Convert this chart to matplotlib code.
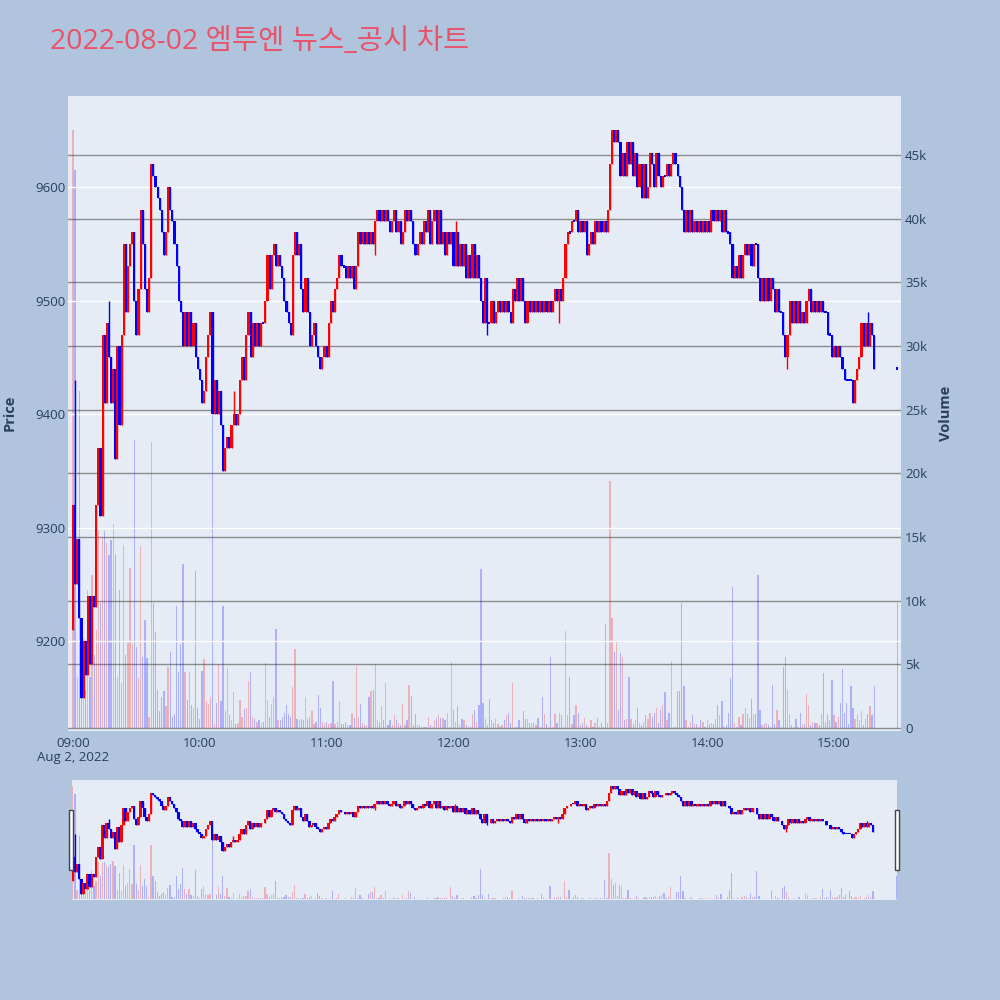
import numpy as np
import pandas as pd
import matplotlib
matplotlib.use("Agg")
import matplotlib.pyplot as plt
import matplotlib.dates as mdates
from matplotlib.patches import Rectangle

plt.rcParams['font.family'] = ['Open Sans', 'Noto Sans CJK KR', 'DejaVu Sans']

title = "2022-08-02 엠투엔 뉴스_공시 차트"

# minute closes 09:00 .. 15:19 (one row = 10 minutes)
closes = [
    9320, 9250, 9290, 9220, 9150, 9200, 9170, 9240, 9180, 9240,
    9230, 9320, 9370, 9310, 9470, 9410, 9480, 9450, 9410, 9440,
    9360, 9460, 9390, 9470, 9550, 9490, 9530, 9550, 9560, 9500,
    9470, 9510, 9580, 9550, 9510, 9490, 9520, 9620, 9610, 9600,
    9590, 9580, 9560, 9540, 9560, 9600, 9580, 9570, 9550, 9530,
    9500, 9490, 9460, 9490, 9460, 9490, 9460, 9480, 9450, 9440,
    9430, 9410, 9420, 9450, 9470, 9490, 9400, 9430, 9400, 9420,
    9390, 9350, 9370, 9380, 9370, 9390, 9400, 9390, 9400, 9430,
    9450, 9430, 9470, 9490, 9450, 9480, 9460, 9480, 9460, 9480,
    9480, 9500, 9540, 9510, 9540, 9550, 9530, 9540, 9530, 9520,
    9500, 9490, 9480, 9470, 9540, 9560, 9540, 9550, 9510, 9490,
    9520, 9490, 9460, 9470, 9480, 9460, 9450, 9440, 9450, 9460,
    9450, 9480, 9500, 9490, 9510, 9520, 9540, 9530, 9530, 9520,
    9530, 9520, 9530, 9510, 9530, 9560, 9550, 9560, 9550, 9560,
    9550, 9560, 9550, 9570, 9580, 9570, 9580, 9570, 9580, 9570,
    9560, 9570, 9580, 9560, 9570, 9550, 9560, 9580, 9570, 9580,
    9570, 9550, 9540, 9550, 9560, 9550, 9570, 9560, 9580, 9550,
    9570, 9580, 9550, 9580, 9550, 9560, 9540, 9560, 9550, 9560,
    9530, 9560, 9530, 9550, 9530, 9550, 9520, 9540, 9520, 9550,
    9520, 9540, 9520, 9500, 9480, 9520, 9480, 9480, 9500, 9480,
    9490, 9500, 9490, 9500, 9490, 9500, 9490, 9480, 9510, 9500,
    9520, 9500, 9520, 9500, 9480, 9500, 9490, 9500, 9490, 9500,
    9490, 9500, 9490, 9500, 9490, 9500, 9490, 9500, 9510, 9500,
    9510, 9500, 9520, 9550, 9560, 9560, 9570, 9570, 9580, 9560,
    9570, 9560, 9570, 9540, 9550, 9560, 9550, 9570, 9560, 9570,
    9560, 9570, 9560, 9580, 9620, 9650, 9640, 9650, 9640, 9610,
    9630, 9610, 9640, 9620, 9640, 9610, 9630, 9600, 9620, 9590,
    9620, 9590, 9600, 9630, 9620, 9600, 9630, 9610, 9600, 9610,
    9610, 9620, 9610, 9620, 9630, 9620, 9610, 9600, 9580, 9560,
    9580, 9560, 9580, 9560, 9570, 9560, 9570, 9560, 9570, 9560,
    9570, 9560, 9580, 9570, 9580, 9570, 9580, 9560, 9580, 9560,
    9560, 9550, 9520, 9530, 9520, 9540, 9520, 9540, 9550, 9540,
    9550, 9530, 9550, 9550, 9520, 9500, 9520, 9500, 9520, 9500,
    9520, 9510, 9490, 9510, 9490, 9490, 9470, 9450, 9470, 9500,
    9480, 9500, 9480, 9500, 9480, 9490, 9480, 9500, 9510, 9490,
    9500, 9490, 9500, 9490, 9500, 9490, 9490, 9470, 9470, 9450,
    9460, 9450, 9460, 9450, 9440, 9430, 9430, 9430, 9430, 9410,
    9430, 9440, 9450, 9480, 9460, 9480, 9460, 9480, 9470, 9440,
]
first_open = 9210
auction_price = 9440          # 15:30 closing auction

# volume in thousands of shares, same minutes
vol_k = [
    47.0, 43.8, 4.0, 26.5, 5.0, 7.0, 3.0, 10.8, 4.0, 12.0,
    5.7, 7.7, 15.5, 9.8, 15.0, 15.5, 14.5, 13.6, 14.8, 16.0,
    13.7, 4.0, 10.8, 3.5, 14.4, 5.7, 6.7, 12.6, 6.6, 22.6,
    6.4, 3.9, 14.3, 5.6, 8.5, 5.5, 0.9, 22.5, 9.8, 7.5,
    3.0, 1.3, 2.4, 2.9, 1.7, 4.8, 6.0, 0.9, 1.1, 9.6,
    4.4, 6.6, 12.9, 4.4, 2.2, 4.4, 1.8, 1.6, 12.3, 1.6,
    0.7, 4.5, 5.4, 2.1, 1.9, 2.4, 27.7, 0.3, 2.0, 5.0,
    2.1, 9.6, 1.3, 4.7, 1.0, 0.6, 2.8, 0.3, 0.4, 2.2,
    0.9, 1.5, 1.6, 3.7, 4.4, 0.9, 0.7, 0.5, 0.6, 0.4,
    0.5, 5.1, 2.2, 0.9, 1.9, 2.4, 7.8, 0.6, 0.6, 0.9,
    1.2, 1.8, 1.1, 0.9, 3.2, 6.2, 0.7, 0.6, 0.7, 0.6,
    2.4, 0.7, 0.9, 1.3, 0.3, 0.5, 2.6, 1.6, 0.5, 0.3,
    0.5, 0.3, 0.4, 3.7, 0.3, 0.5, 2.1, 0.3, 0.3, 0.5,
    0.2, 0.2, 1.2, 0.8, 4.9, 0.8, 1.9, 0.4, 0.2, 0.2,
    2.4, 2.9, 3.0, 5.0, 0.6, 0.5, 1.7, 0.6, 3.5, 0.2,
    0.6, 0.2, 1.0, 0.6, 0.4, 0.2, 1.9, 0.2, 0.6, 3.4,
    2.5, 0.2, 1.1, 0.2, 0.2, 0.1, 0.1, 0.1, 0.9, 0.2,
    0.1, 0.6, 0.8, 1.0, 0.8, 0.8, 0.6, 1.2, 0.1, 5.2,
    1.4, 0.5, 1.7, 0.2, 0.7, 0.6, 0.2, 0.1, 0.1, 1.1,
    1.4, 0.5, 1.8, 12.5, 2.0, 0.7, 0.2, 2.3, 0.6, 0.4,
    0.7, 0.3, 0.1, 0.2, 0.6, 1.0, 1.2, 0.4, 3.5, 0.1,
    0.1, 0.6, 0.1, 1.3, 0.7, 0.7, 0.4, 0.4, 0.4, 0.2,
    0.8, 0.1, 2.4, 1.1, 0.3, 0.1, 5.6, 0.1, 1.1, 0.4,
    1.2, 1.0, 0.1, 7.6, 1.0, 4.0, 0.3, 1.0, 1.8, 1.2,
    0.2, 0.4, 0.8, 0.2, 0.1, 0.6, 0.1, 0.4, 0.8, 0.1,
    0.4, 0.1, 8.2, 0.4, 19.4, 8.6, 6.0, 6.8, 1.4, 5.9,
    5.6, 0.6, 0.7, 4.0, 0.7, 0.3, 0.6, 1.6, 0.4, 0.2,
    0.5, 1.0, 0.7, 1.2, 0.9, 1.2, 1.6, 0.4, 1.4, 1.8,
    2.8, 0.6, 1.2, 5.3, 0.1, 0.1, 2.9, 2.9, 9.8, 3.3,
    0.6, 0.1, 0.5, 1.0, 0.3, 0.3, 0.1, 0.6, 0.5, 0.1,
    0.6, 0.3, 0.4, 0.3, 0.7, 1.8, 1.0, 2.1, 0.1, 0.2,
    1.2, 3.9, 11.1, 0.4, 0.1, 0.9, 0.2, 1.1, 1.6, 1.1,
    0.8, 2.3, 1.1, 1.1, 12.0, 1.4, 0.2, 0.3, 0.4, 0.2,
    0.1, 3.4, 0.3, 1.4, 0.6, 0.1, 4.8, 5.6, 3.0, 1.1,
    0.2, 0.1, 0.7, 0.1, 1.2, 0.2, 0.3, 2.7, 1.8, 0.2,
    0.5, 0.4, 0.4, 0.2, 1.1, 4.3, 0.5, 1.1, 0.6, 3.8,
    1.0, 0.5, 0.9, 2.0, 4.6, 1.2, 2.0, 0.3, 3.3, 1.6,
    0.7, 1.1, 0.6, 1.3, 0.2, 0.7, 1.1, 1.7, 1.0, 3.3,
]
auction_vol_k = 9.8

# wicks that poke out of the bodies (minute index -> price)
wick_high = {1: 9430, 17: 9500, 76: 9420, 181: 9570, 376: 9490}
wick_low = {143: 9540, 196: 9470, 230: 9480, 338: 9440}

assert len(closes) == len(vol_k) == 380

RED = '#FF0000'
BLUE = '#0000FF'
FONT_C = '#2a3f5f'

t = pd.Timestamp('2022-08-02 09:00') + pd.to_timedelta(np.arange(len(closes)), unit='min')
t = t.append(pd.DatetimeIndex([pd.Timestamp('2022-08-02 15:30')]))
x = mdates.date2num(t.to_pydatetime())

c = np.array(closes + [auction_price], float)
o = np.concatenate([[first_open], c[:-1]])
o[-1] = auction_price
hi = np.maximum(o, c)
lo = np.minimum(o, c)
for k, v in wick_high.items():
    hi[k] = v
for k, v in wick_low.items():
    lo[k] = v
vol = np.array(vol_k + [auction_vol_k])
up = c > o
cols = np.where(up, RED, BLUE)

MIN = 1 / 1440.0


def draw(axp, axv, body_w, wick_lw):
    axv.bar(x, vol, width=0.6 * MIN, color=cols, alpha=0.25, linewidth=0, zorder=2)
    axp.vlines(x, lo, hi, colors=cols, lw=wick_lw, zorder=3)
    d = np.abs(c - o)
    h = np.maximum(d, 2.0)
    b = np.minimum(o, c) - (h - d) / 2
    axp.bar(x, h, bottom=b, width=body_w * MIN, color=cols, linewidth=0, zorder=4)


fig = plt.figure(figsize=(10, 10), dpi=100, facecolor='#B0C4DE')

# main panel
axv = fig.add_axes([0.068, 0.269, 0.833, 0.635], facecolor='#E5ECF6')
axp = axv.twinx()
axv.yaxis.tick_right()
axp.yaxis.tick_left()

draw(axp, axv, 1.0, 1.0)

t_start = pd.Timestamp('2022-08-02 09:00')
axv.set_xlim(mdates.date2num(t_start - pd.Timedelta(minutes=2.37)),
             mdates.date2num(t_start + pd.Timedelta(minutes=391.7)))
axv.set_ylim(-0.236, 49.635)
axp.set_ylim(9120.7, 9680.2)

axv.set_yticks(np.arange(0, 50, 5))
axv.set_yticklabels(['0'] + ['%dk' % v for v in range(5, 50, 5)])
axp.set_yticks(np.arange(9200, 9700, 100))
axv.grid(axis='y', color='#8c8c8c', lw=1.0)
axp.grid(axis='y', color='white', lw=1.0)
axp.set_axisbelow(True)

axv.xaxis.set_major_locator(mdates.HourLocator())
axv.xaxis.set_major_formatter(mdates.DateFormatter('%H:%M'))

for a in (axv, axp):
    for s in a.spines.values():
        s.set_visible(False)
    a.tick_params(length=0, labelsize=9.5, labelcolor=FONT_C)
axv.tick_params(axis='y', pad=3)
axp.tick_params(axis='y', pad=2)
axv.tick_params(axis='x', pad=4)

fig.text(0.073, 1 - 0.758, 'Aug 2, 2022', ha='center', va='center', fontsize=9.5, color=FONT_C)
fig.text(0.010, 0.587, 'Price', rotation=90, ha='center', va='center',
         fontsize=10.5, fontweight='bold', color=FONT_C)
fig.text(0.946, 0.587, 'Volume', rotation=90, ha='center', va='center',
         fontsize=10.5, fontweight='bold', color=FONT_C)
fig.text(0.050, 0.958, title, ha='left', va='center', fontsize=20.5, color='#E9536A')

# range slider
sv = fig.add_axes([0.072, 0.100, 0.825, 0.120], facecolor='#E5ECF6')
sp = sv.twinx()
draw(sp, sv, 1.2, 1.0)
sv.set_xlim(mdates.date2num(t_start - pd.Timedelta(minutes=0.4)),
            mdates.date2num(t_start + pd.Timedelta(minutes=390.4)))
sv.set_ylim(-0.236, 49.635)
sp.set_ylim(9120.7, 9680.2)
for a in (sv, sp):
    a.set_xticks([])
    a.set_yticks([])
    for s in a.spines.values():
        s.set_visible(False)

for hx in (0.069, 0.895):
    fig.add_artist(Rectangle((hx, 0.130), 0.004, 0.060, transform=fig.transFigure,
                             facecolor='white', edgecolor='#444444', lw=1.0))

fig.savefig('out.png', dpi=100, facecolor=fig.get_facecolor())
